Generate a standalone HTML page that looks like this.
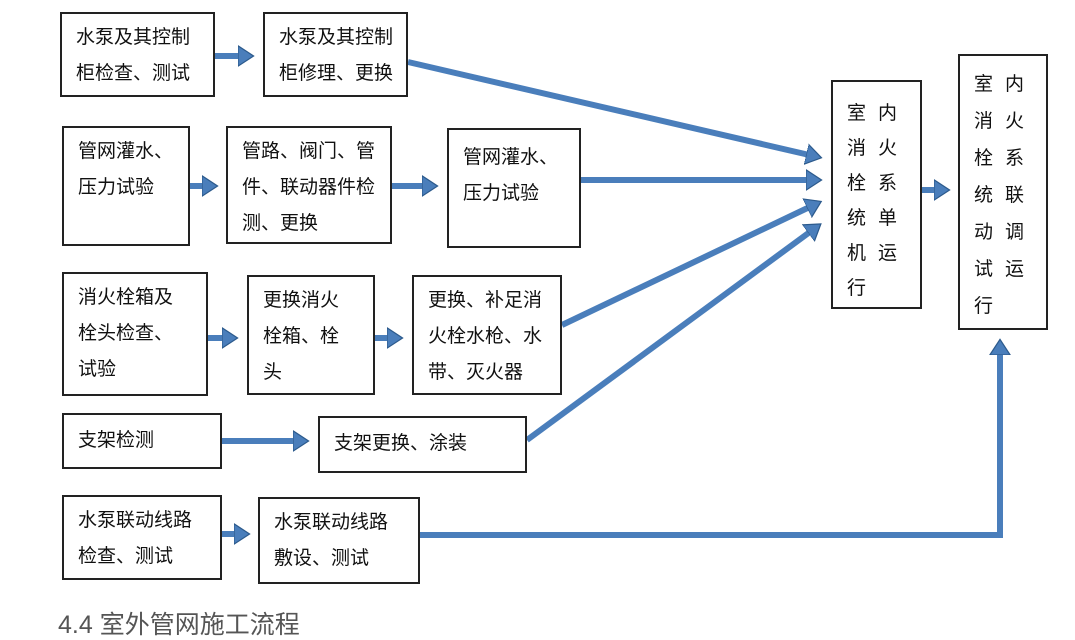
<!DOCTYPE html>
<html><head><meta charset="utf-8"><style>
body{margin:0;width:1075px;height:625px;background:#fff;position:relative;overflow:hidden;font-family:"Liberation Sans","Noto Sans CJK SC",sans-serif}
.b{position:absolute;border:2px solid #222;box-sizing:border-box;font-size:19px;line-height:36px;color:#111;padding:6px 0 0 14px;background:#fff}
.v{padding:12px 0 0 14px;line-height:36px;letter-spacing:12px}
svg{position:absolute;left:0;top:0}
</style></head><body>
<svg width="1075" height="625">
<defs><marker id="a" markerWidth="4" markerHeight="4" refX="2" refY="2" orient="auto" markerUnits="strokeWidth"><path d="M0,0.3 L2.6,2 L0,3.7z" fill="#4a7ebb" stroke="#2c5a8c" stroke-width="0.2"/></marker></defs>
<g stroke="#4a7ebb" stroke-width="6" fill="none" marker-end="url(#a)">
<line x1="215" y1="56" x2="250" y2="56"/>
<line x1="190" y1="186" x2="214" y2="186"/>
<line x1="392" y1="186" x2="434" y2="186"/>
<line x1="208" y1="338" x2="234" y2="338"/>
<line x1="375" y1="338" x2="399" y2="338"/>
<line x1="222" y1="441" x2="305" y2="441"/>
<line x1="222" y1="534" x2="246" y2="534"/>
<line x1="408" y1="62" x2="818" y2="157"/>
<line x1="581" y1="180" x2="818" y2="180"/>
<line x1="562" y1="325" x2="818" y2="203"/>
<line x1="527" y1="440" x2="818" y2="226"/>
<line x1="922" y1="190" x2="946" y2="190"/>
<polyline points="420,535 1000,535 1000,343"/>
</g>
</svg>
<div class="b" style="left:60px;top:12px;width:155px;height:85px">水泵及其控制<br>柜检查、测试</div>
<div class="b" style="left:263px;top:12px;width:145px;height:85px">水泵及其控制<br>柜修理、更换</div>
<div class="b" style="left:62px;top:126px;width:128px;height:120px">管网灌水、<br>压力试验</div>
<div class="b" style="left:226px;top:126px;width:166px;height:118px">管路、阀门、管<br>件、联动器件检<br>测、更换</div>
<div class="b" style="left:447px;top:128px;width:134px;height:120px;padding-top:10px">管网灌水、<br>压力试验</div>
<div class="b" style="left:62px;top:272px;width:146px;height:124px">消火栓箱及<br>栓头检查、<br>试验</div>
<div class="b" style="left:247px;top:275px;width:128px;height:120px">更换消火<br>栓箱、栓<br>头</div>
<div class="b" style="left:412px;top:275px;width:150px;height:120px">更换、补足消<br>火栓水枪、水<br>带、灭火器</div>
<div class="b" style="left:62px;top:413px;width:160px;height:56px;padding-top:8px">支架检测</div>
<div class="b" style="left:318px;top:416px;width:209px;height:57px;padding-top:8px">支架更换、涂装</div>
<div class="b" style="left:62px;top:495px;width:160px;height:85px">水泵联动线路<br>检查、测试</div>
<div class="b" style="left:258px;top:497px;width:162px;height:87px">水泵联动线路<br>敷设、测试</div>
<div class="b v" style="left:831px;top:80px;width:91px;height:229px;padding-top:14px;line-height:35px">室内<br>消火<br>栓系<br>统单<br>机运<br>行</div>
<div class="b v" style="left:958px;top:54px;width:90px;height:276px;padding-top:10px;line-height:37px">室内<br>消火<br>栓系<br>统联<br>动调<br>试运<br>行</div>
<div style="position:absolute;left:58px;top:610px;font-size:25px;color:#555;line-height:30px">4.4 室外管网施工流程</div>
</body></html>
